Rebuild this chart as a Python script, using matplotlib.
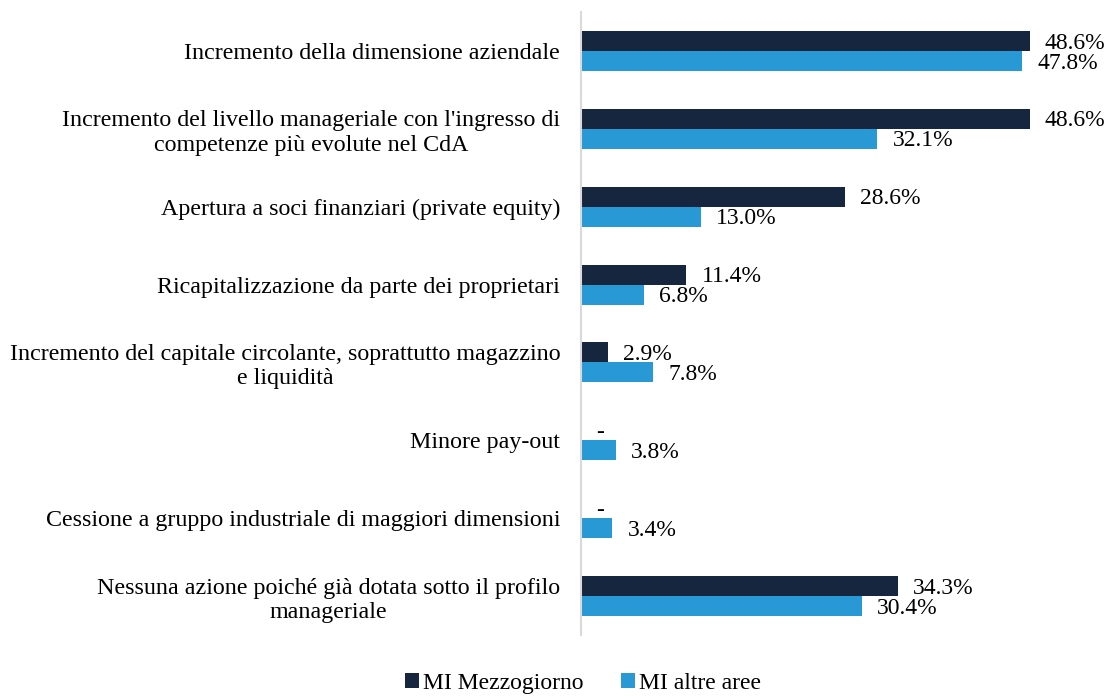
import matplotlib.pyplot as plt
import numpy as np

plt.rcParams['font.family'] = ['Liberation Serif', 'DejaVu Serif']

categories = [
    "Incremento della dimensione aziendale",
    "Incremento del livello manageriale con l'ingresso di\ncompetenze più evolute nel CdA",
    "Apertura a soci finanziari (private equity)",
    "Ricapitalizzazione da parte dei proprietari",
    "Incremento del capitale circolante, soprattutto magazzino\ne liquidità",
    "Minore pay-out",
    "Cessione a gruppo industriale di maggiori dimensioni",
    "Nessuna azione poiché già dotata sotto il profilo\nmanageriale",
]
mezzogiorno = [48.6, 48.6, 28.6, 11.4, 2.9, 0.0, 0.0, 34.3]
altre_aree = [47.8, 32.1, 13.0, 6.8, 7.8, 3.8, 3.4, 30.4]
series_names = ["MI Mezzogiorno", "MI altre aree"]

dark = '#16263f'
light = '#2899d5'

fig = plt.figure(figsize=(11.08, 6.97), dpi=100)
ax = fig.add_axes([581 / 1108, 62 / 697, 517 / 1108, 623 / 697])

y = np.arange(len(categories))
h = 0.257
ax.barh(y - h / 2, mezzogiorno, height=h, color=dark, label=series_names[0])
ax.barh(y + h / 2, altre_aree, height=h, color=light, label=series_names[1])

for i in range(len(categories)):
    v = mezzogiorno[i]
    txt = '-' if v == 0 else f'{v:.1f}%'
    ax.annotate(txt, (v, y[i] - h / 2), xytext=(11, -1.5), textcoords='offset points',
                ha='left', va='center', fontsize=17)
    v = altre_aree[i]
    ax.annotate(f'{v:.1f}%', (v, y[i] + h / 2), xytext=(11, -1.5), textcoords='offset points',
                ha='left', va='center', fontsize=17)

ax.set_xlim(0, 56)
ax.set_ylim(len(categories) - 0.5, -0.5)
ax.set_yticks(y)
ax.set_yticklabels(categories, fontsize=17.3, multialignment='center')
ax.tick_params(axis='y', length=0, pad=15)
ax.set_xticks([])
for s in ['top', 'right', 'bottom']:
    ax.spines[s].set_visible(False)
ax.spines['left'].set_color('#d9d9d9')
ax.spines['left'].set_linewidth(1.5)

fig.legend(loc='lower center', bbox_to_anchor=(583 / 1108, -0.026), ncol=2, frameon=False,
           fontsize=17, handlelength=0.6, handleheight=0.6, handletextpad=0.2, columnspacing=1.55)

plt.savefig('out.png')
